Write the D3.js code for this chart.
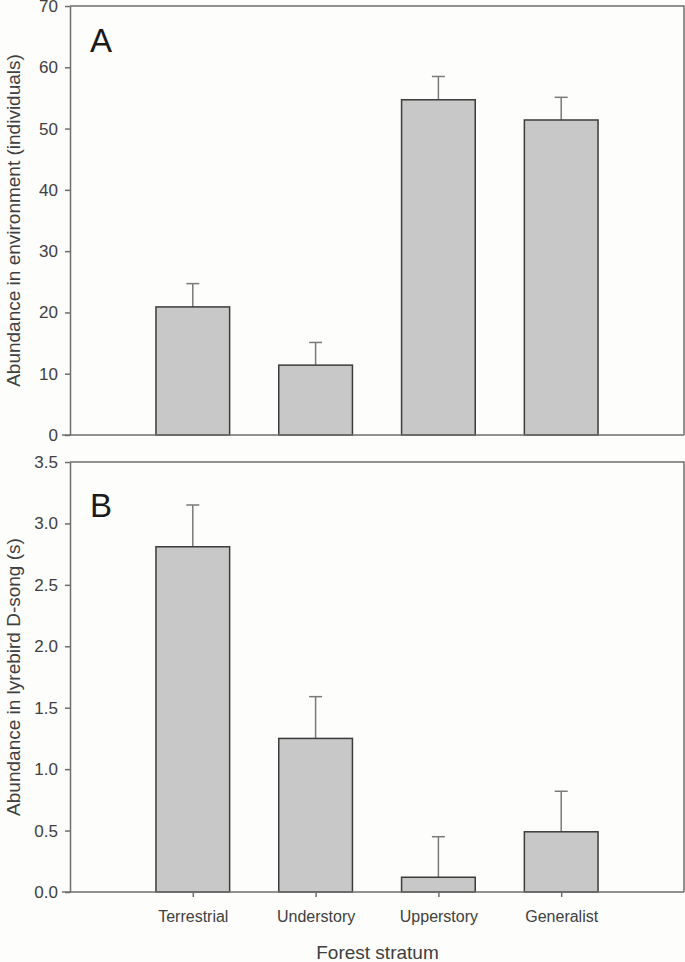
<!DOCTYPE html>
<html>
<head>
<meta charset="utf-8">
<script src="https://cdn.jsdelivr.net/npm/d3@7"></script>
<style>
  body { margin: 0; background: #fdfdfb; }
  svg { display: block; font-family: Arial, "Liberation Sans", sans-serif; }
  .axis text { fill: #404040; }
  .axis path, .axis line { stroke: #6e6e6e; stroke-width: 1.5; }
</style>
</head>
<body>
<svg id="chart" width="685" height="962"></svg>
<script>
// categories along x
const categories = ["Terrestrial", "Understory", "Upperstory", "Generalist"];

// panel A: abundance in environment (individuals), mean and SE
const envMean = [20.9, 11.4, 54.7, 51.4];
const envSE = [3.8, 3.7, 3.8, 3.7];

// panel B: abundance in lyrebird D-song (s), mean and SE
const songMean = [2.81, 1.25, 0.12, 0.49];
const songSE = [0.34, 0.34, 0.33, 0.33];

const envTicks = [0, 10, 20, 30, 40, 50, 60, 70];
const songTicks = [0, 0.5, 1.0, 1.5, 2.0, 2.5, 3.0, 3.5];

const svg = d3.select("#chart");
const left = 70, right = 684;

const x = d3.scalePoint()
    .domain(categories)
    .range([left, right])
    .padding(1);
const barW = x.step() * 0.6;

// one panel: frame, bars, error bars, y axis
function drawPanel(means, ses, ticks, fmt, top, bottom, label, title, showX) {
    const y = d3.scaleLinear()
        .domain([ticks[0], ticks[ticks.length - 1]])
        .range([bottom, top]);

    const g = svg.append("g");

    // error bars (upper half only)
    g.selectAll(".err")
        .data(categories)
        .enter().append("line")
        .attr("x1", d => x(d))
        .attr("x2", d => x(d))
        .attr("y1", (d, i) => y(means[i]))
        .attr("y2", (d, i) => y(means[i] + ses[i]))
        .attr("stroke", "#7a7a7a")
        .attr("stroke-width", 1.5);

    g.selectAll(".cap")
        .data(categories)
        .enter().append("line")
        .attr("x1", d => x(d) - 6.5)
        .attr("x2", d => x(d) + 6.5)
        .attr("y1", (d, i) => y(means[i] + ses[i]))
        .attr("y2", (d, i) => y(means[i] + ses[i]))
        .attr("stroke", "#7a7a7a")
        .attr("stroke-width", 1.5);

    g.selectAll(".bar")
        .data(categories)
        .enter().append("rect")
        .attr("x", d => x(d) - barW / 2)
        .attr("y", (d, i) => y(means[i]))
        .attr("width", barW)
        .attr("height", (d, i) => y(0) - y(means[i]))
        .attr("fill", "#c8c8c8")
        .attr("stroke", "#3c3c3c")
        .attr("stroke-width", 1.5);

    // frame top and right
    g.append("path")
        .attr("d", `M${left},${top}H${right}V${bottom}`)
        .attr("fill", "none")
        .attr("stroke", "#6e6e6e")
        .attr("stroke-width", 1.5);

    const yAxis = d3.axisLeft(y)
        .tickValues(ticks)
        .tickFormat(fmt)
        .tickSizeInner(5)
        .tickSizeOuter(0)
        .tickPadding(7);

    g.append("g")
        .attr("class", "axis")
        .attr("transform", `translate(${left},0)`)
        .call(yAxis)
        .selectAll("text")
        .attr("font-size", 17);

    const xAxis = d3.axisBottom(x)
        .tickSizeInner(showX ? 5 : 0)
        .tickSizeOuter(0)
        .tickPadding(14);

    const xg = g.append("g")
        .attr("class", "axis")
        .attr("transform", `translate(0,${bottom})`)
        .call(xAxis);
    xg.select(".domain").attr("d", `M${left - 8},0H${right}`);
    xg.selectAll("text")
        .attr("font-size", 16)
        .style("display", showX ? null : "none");

    g.append("text")
        .attr("x", 90)
        .attr("y", top + (label === "A" ? 46 : 55))
        .attr("font-size", 33)
        .attr("fill", "#1a1a1a")
        .text(label);

    g.append("text")
        .attr("transform", `translate(20,${(top + bottom) / 2}) rotate(-90)`)
        .attr("text-anchor", "middle")
        .attr("font-size", 19)
        .attr("fill", "#404040")
        .text(title);
}

drawPanel(envMean, envSE, envTicks, d3.format("d"), 6, 435,
    "A", "Abundance in environment (individuals)", false);
drawPanel(songMean, songSE, songTicks, d3.format(".1f"), 462, 892,
    "B", "Abundance in lyrebird D-song (s)", true);

svg.append("text")
    .attr("x", x.range()[0] + (x.range()[1] - x.range()[0]) / 2 + 0.5)
    .attr("y", 959)
    .attr("text-anchor", "middle")
    .attr("font-size", 19)
    .attr("fill", "#404040")
    .text("Forest stratum");
</script>
</body>
</html>
